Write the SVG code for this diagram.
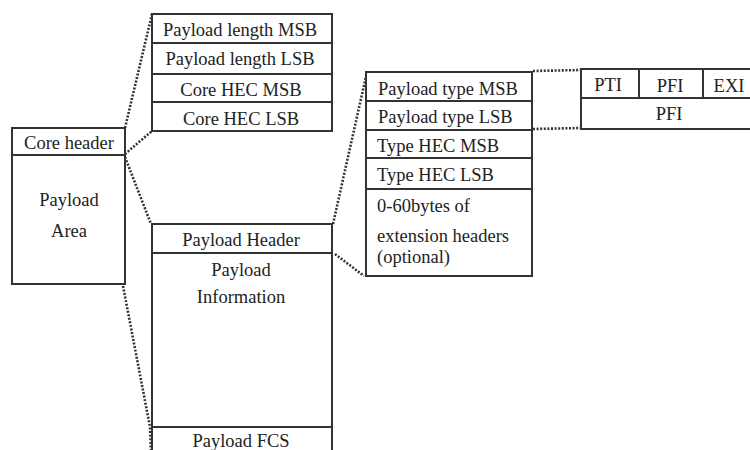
<svg xmlns="http://www.w3.org/2000/svg" width="750" height="450" viewBox="0 0 750 450">
  <style>
    .box { fill: #fff; stroke: #333; stroke-width: 2; }
    .rule { stroke: #333; stroke-width: 2; fill: none; }
    .link { stroke: #333; stroke-width: 2.6; fill: none; stroke-dasharray: 2 1.6; }
    .c { text-anchor: middle; }
  </style>
  <rect width="750" height="450" fill="#fff"/>

  <!-- dotted expansion lines between the levels -->
  <g id="connectors">
    <line class="link" x1="125" y1="128" x2="152" y2="14"/>
    <line class="link" x1="125" y1="154" x2="152" y2="131"/>
    <line class="link" x1="125" y1="157" x2="151" y2="224"/>
    <polyline class="link" points="123,286 150,427 151,452"/>
    <line class="link" x1="333" y1="224" x2="367" y2="72"/>
    <line class="link" x1="335" y1="254" x2="364" y2="276"/>
    <line class="link" x1="533" y1="71" x2="581" y2="70"/>
    <line class="link" x1="533" y1="129" x2="581" y2="128"/>
  </g>

  <g font-family="Liberation Serif, Times New Roman, serif" font-size="18.5" fill="#222">
    <!-- frame: core header + payload area -->
    <g id="frame">
      <rect class="box" x="12" y="128" width="113" height="156"/>
      <line class="rule" x1="12" y1="155" x2="125" y2="155"/>
      <text class="c" x="69" y="149">Core header</text>
      <text class="c" x="69" y="206">Payload</text>
      <text class="c" x="69" y="237">Area</text>
    </g>

    <!-- core header fields -->
    <g id="core-header">
      <rect class="box" x="152" y="14" width="180" height="117"/>
      <line class="rule" x1="152" y1="43" x2="332" y2="43"/>
      <line class="rule" x1="152" y1="74" x2="332" y2="74"/>
      <line class="rule" x1="152" y1="102" x2="332" y2="102"/>
      <text class="c" x="240" y="36">Payload length MSB</text>
      <text class="c" x="240" y="65">Payload length LSB</text>
      <text class="c" x="241" y="96">Core HEC MSB</text>
      <text class="c" x="241" y="125">Core HEC LSB</text>
    </g>

    <!-- payload area breakdown -->
    <g id="payload-area">
      <rect class="box" x="152" y="224" width="180" height="240"/>
      <line class="rule" x1="152" y1="253" x2="332" y2="253"/>
      <line class="rule" x1="152" y1="427" x2="332" y2="427"/>
      <text class="c" x="241" y="246">Payload Header</text>
      <text class="c" x="241" y="276">Payload</text>
      <text class="c" x="241" y="303">Information</text>
      <text class="c" x="241" y="447">Payload FCS</text>
    </g>

    <!-- payload header fields -->
    <g id="payload-header">
      <rect class="box" x="366" y="72" width="166" height="204"/>
      <line class="rule" x1="366" y1="101" x2="532" y2="101"/>
      <line class="rule" x1="366" y1="130" x2="532" y2="130"/>
      <line class="rule" x1="366" y1="158" x2="532" y2="158"/>
      <line class="rule" x1="366" y1="189" x2="532" y2="189"/>
      <text x="378" y="95">Payload type MSB</text>
      <text x="378" y="123">Payload type LSB</text>
      <text x="377" y="152">Type HEC MSB</text>
      <text x="377" y="181">Type HEC LSB</text>
      <text x="377" y="212">0-60bytes of</text>
      <text x="377" y="242">extension headers</text>
      <text x="377" y="263">(optional)</text>
    </g>

    <!-- payload type bit fields -->
    <g id="payload-type">
      <rect class="box" x="581" y="69" width="180" height="60"/>
      <line class="rule" x1="581" y1="98" x2="761" y2="98"/>
      <line class="rule" x1="639" y1="69" x2="639" y2="98"/>
      <line class="rule" x1="703" y1="69" x2="703" y2="98"/>
      <text class="c" x="608" y="91">PTI</text>
      <text class="c" x="670" y="92">PFI</text>
      <text class="c" x="729" y="92">EXI</text>
      <text class="c" x="669" y="120">PFI</text>
    </g>
  </g>
</svg>
